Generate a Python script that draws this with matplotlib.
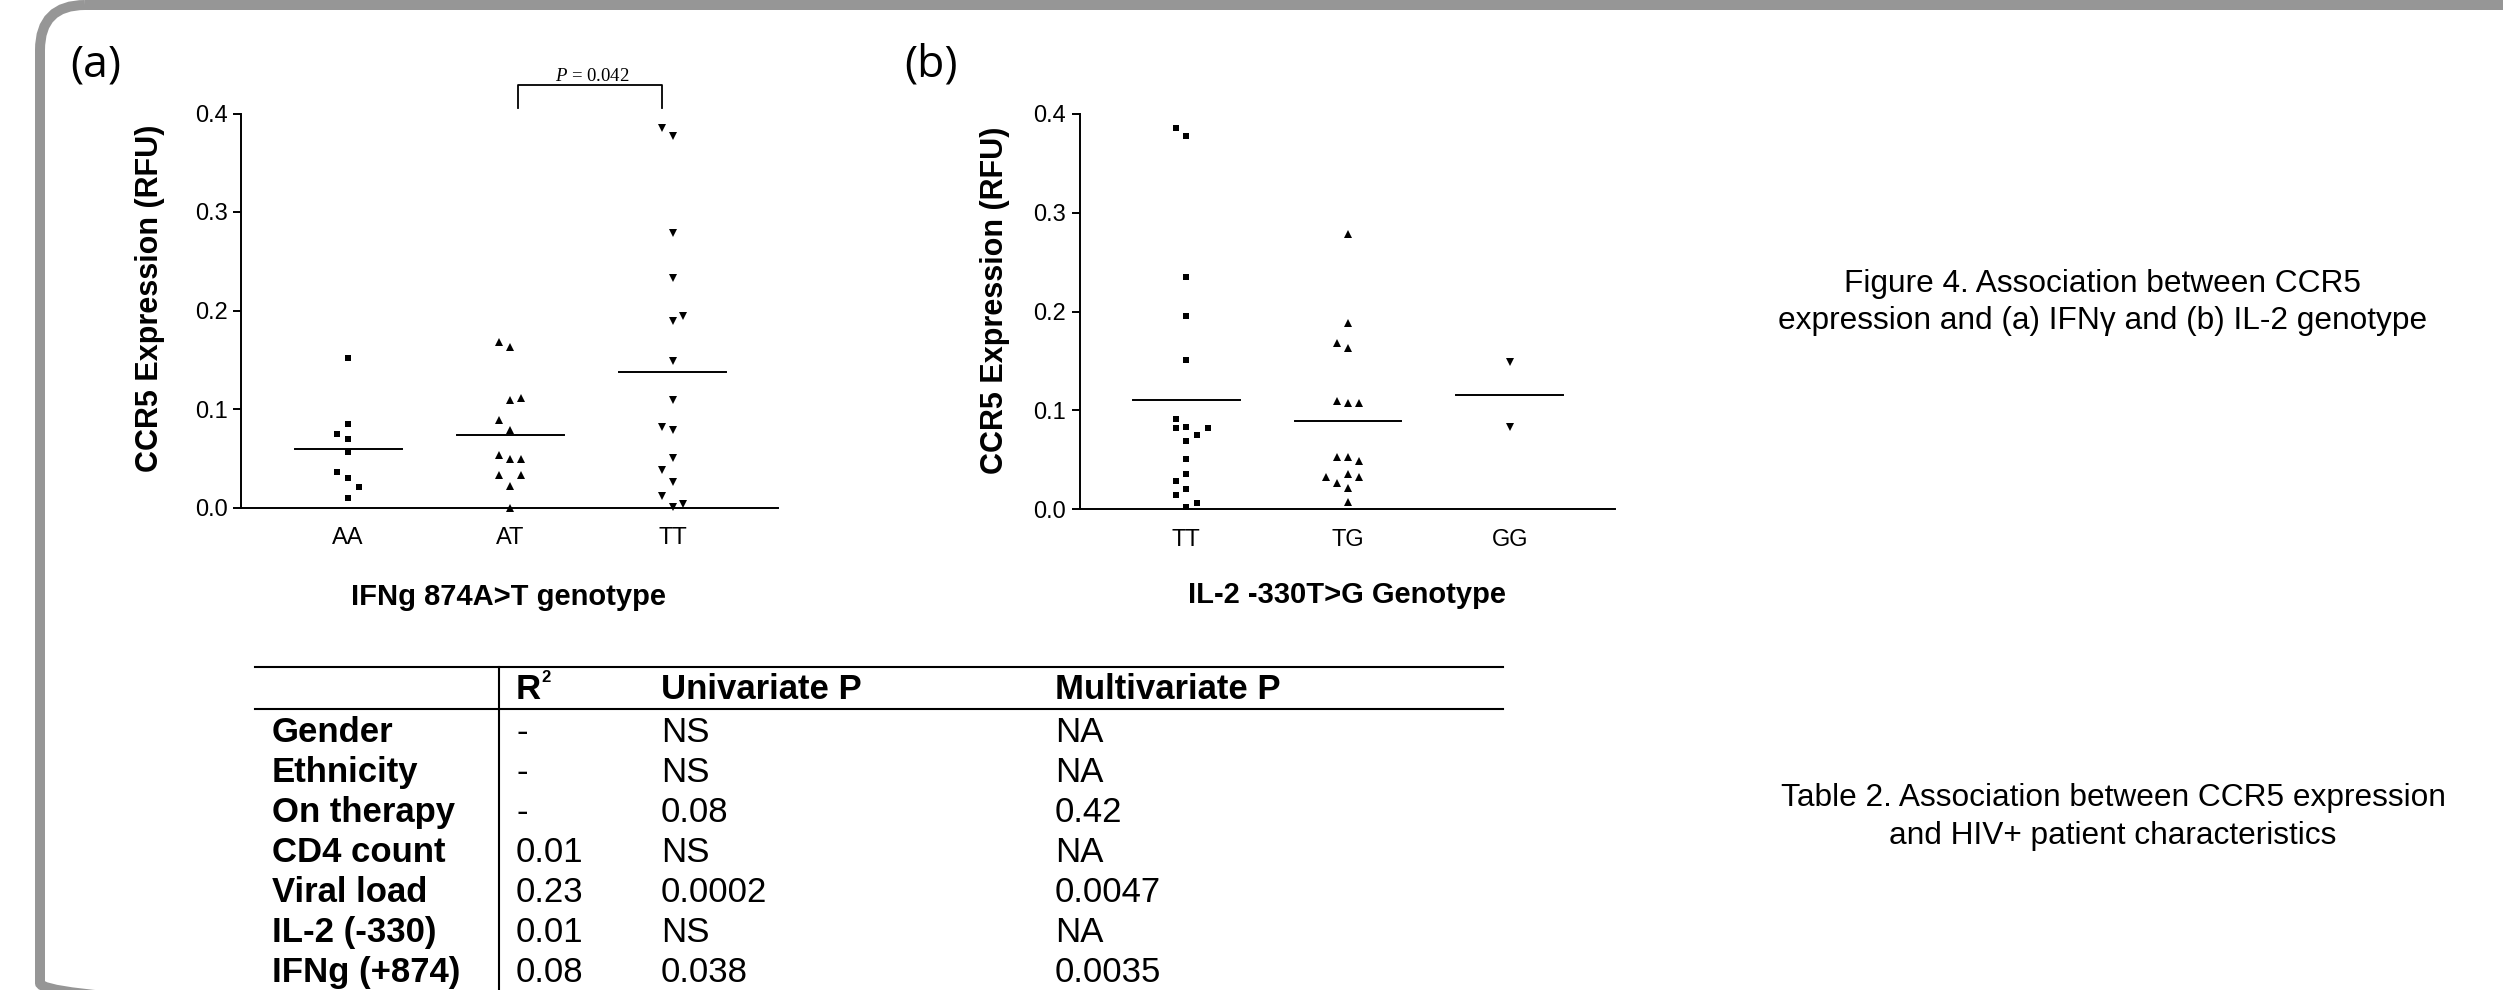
import numpy as np
import matplotlib
matplotlib.use("Agg")
import matplotlib.pyplot as plt
from matplotlib.patches import FancyBboxPatch
from matplotlib.ticker import FormatStrFormatter

W, H = 2503, 990  # output size in pixels (dpi 100)

# ── data ────────────────────────────────────────────────────────────
# (a) CCR5 expression by IFNg 874A>T genotype
ifng_groups = ["AA", "AT", "TT"]
ifng_aa = [0.152, 0.085, 0.075, 0.070, 0.056, 0.036, 0.030, 0.021, 0.010]
ifng_at = [0.168, 0.163, 0.109, 0.111, 0.089, 0.079, 0.053, 0.049, 0.049,
           0.033, 0.033, 0.022, 0.000]
ifng_tt = [0.385, 0.377, 0.279, 0.233, 0.189, 0.194, 0.149, 0.109, 0.082,
           0.079, 0.050, 0.038, 0.026, 0.012, 0.001, 0.004]
# swarm column of each point (-1 left, 0 centre, +1 right), as plotted
ifng_aa_col = [0, 0, -1, 0, 0, -1, 0, 1, 0]
ifng_at_col = [-1, 0, 0, 1, -1, 0, -1, 0, 1, -1, 1, 0, 0]
ifng_tt_col = [-1, 0, 0, 0, 0, 1, 0, 0, -1, 0, 0, -1, 0, -1, 0, 1]
ifng_p = "0.042"

# (b) CCR5 expression by IL-2 -330T>G genotype
il2_groups = ["TT", "TG", "GG"]
il2_tt = [0.386, 0.378, 0.235, 0.196, 0.151, 0.091, 0.082, 0.083, 0.082,
          0.075, 0.069, 0.051, 0.036, 0.029, 0.021, 0.014, 0.006, 0.002]
il2_tg = [0.278, 0.188, 0.168, 0.163, 0.110, 0.108, 0.108, 0.053, 0.053,
          0.049, 0.036, 0.033, 0.033, 0.027, 0.022, 0.007]
il2_gg = [0.149, 0.083]
il2_tt_col = [-1, 0, 0, 0, 0, -1, -1, 0, 2, 1, 0, 0, 0, -1, 0, -1, 1, 0]
il2_tg_col = [0, 0, -1, 0, -1, 0, 1, -1, 0, 1, 0, -2, 1, -1, 0, 0]
il2_gg_col = [0, 0]

# Table 2
tbl_header = ["Univariate P", "Multivariate P"]
tbl_rows = ["Gender", "Ethnicity", "On therapy", "CD4 count", "Viral load",
            "IL-2 (-330)", "IFNg (+874)"]
tbl_r2 = ["-", "-", "-", "0.01", "0.23", "0.01", "0.08"]
tbl_uni = ["NS", "NS", "0.08", "NS", "0.0002", "NS", "0.038"]
tbl_multi = ["NA", "NA", "0.42", "NA", "0.0047", "NA", "0.0035"]

fig_caption = ["Figure 4. Association between CCR5",
               "expression and (a) IFNγ and (b) IL-2 genotype"]
tbl_caption = ["Table 2. Association between CCR5 expression",
               "and HIV+ patient characteristics"]

SLOT_W = 0.067      # width of one swarm column, in category units
HALF_MEAN = 0.33    # half length of the mean bar
FRAME_GREY = "#969696"

plt.rcParams["font.family"] = ["Liberation Sans", "DejaVu Sans"]
plt.rcParams["mathtext.fontset"] = "custom"
plt.rcParams["mathtext.rm"] = "Liberation Serif"
plt.rcParams["mathtext.it"] = "Liberation Serif:italic"


def fx(x):
    return x / W


def fy(y):
    return 1.0 - y / H


def px_rect(x0, ytop, x1, ybot):
    return [x0 / W, 1.0 - ybot / H, (x1 - x0) / W, (ybot - ytop) / H]


def draw_panel(ax, groups, values, cols, markers):
    for i, (vals, col, mk) in enumerate(zip(values, cols, markers)):
        x = i + 1 + SLOT_W * np.asarray(col)
        ms = 4.6 if mk == "s" else 6.2
        ax.plot(x, vals, linestyle="none", marker=mk, ms=ms, color="black",
                mew=0, clip_on=False, zorder=3)
        m = float(np.mean(vals))
        ax.plot([i + 1 - HALF_MEAN, i + 1 + HALF_MEAN], [m, m],
                color="black", lw=1.4, zorder=2)
    ax.set_xlim(0.34, 3.65)
    ax.set_ylim(0, 0.4)
    ax.set_yticks(np.arange(0, 0.41, 0.1))
    ax.yaxis.set_major_formatter(FormatStrFormatter("%.1f"))
    ax.set_xticks([1, 2, 3])
    ax.set_xticklabels(groups)
    ax.tick_params(axis="x", length=0, pad=14, labelsize=17)
    ax.tick_params(axis="y", length=5.8, width=1.4, pad=4, labelsize=17)
    for side in ("top", "right"):
        ax.spines[side].set_visible(False)
    for side in ("left", "bottom"):
        ax.spines[side].set_linewidth(1.4)


fig = plt.figure(figsize=(W / 100, H / 100), dpi=100)

# ── background layer in pixel coordinates: frame + table rules ──────
bg = fig.add_axes([0, 0, 1, 1])
bg.set_xlim(0, W)
bg.set_ylim(H, 0)
bg.axis("off")
bg.add_patch(FancyBboxPatch(
    (40, 5), 2700, 1023, boxstyle="round,pad=0,rounding_size=45",
    fill=False, ec=FRAME_GREY, lw=7.2,
))
bg.plot([255, 1503], [666.7, 666.7], color="black", lw=1.5)
bg.plot([255, 1503], [709, 709], color="black", lw=1.5)
bg.plot([499.3, 499.3], [666.7, 995], color="black", lw=1.5)

# ── (a) ─────────────────────────────────────────────────────────────
ax_a = fig.add_axes(px_rect(241, 113.5, 778, 507.5))
draw_panel(ax_a, ifng_groups, [ifng_aa, ifng_at, ifng_tt],
           [ifng_aa_col, ifng_at_col, ifng_tt_col], ["s", "^", "v"])
# significance bracket AT vs TT
ax_a.plot([2.045, 2.045, 2.932, 2.932], [0.406, 0.4286, 0.4286, 0.406],
          color="black", lw=1.3, clip_on=False)
ax_a.text(2.505, 0.433, r"$P$ = " + ifng_p, family="Liberation Serif",
          fontsize=13.5, ha="center", va="baseline")

# ── (b) ─────────────────────────────────────────────────────────────
ax_b = fig.add_axes(px_rect(1079.6, 113.9, 1615, 509.3))
draw_panel(ax_b, il2_groups, [il2_tt, il2_tg, il2_gg],
           [il2_tt_col, il2_tg_col, il2_gg_col], ["s", "^", "v"])

# axis titles
for x, y in ((150, 298), (995, 300)):
    fig.text(fx(x), fy(y), "CCR5 Expression (RFU)", rotation=90,
             fontsize=22, fontweight="bold", ha="center", va="center")
fig.text(fx(508.5), fy(605), "IFNg 874A>T genotype", fontsize=21,
         fontweight="bold", ha="center", va="baseline")
fig.text(fx(1347), fy(603), "IL-2 -330T>G Genotype", fontsize=21,
         fontweight="bold", ha="center", va="baseline")

# panel letters
for x, s in ((70, "(a)"), (904, "(b)")):
    fig.text(fx(x), fy(65), s, family="Open Sans", fontsize=32,
             ha="left", va="center")

# ── Table 2 ─────────────────────────────────────────────────────────
col_x = [271.7, 516, 661, 1055]
fig.text(fx(col_x[1]), fy(699.3), "R", fontsize=25, fontweight="bold",
         va="baseline")
fig.text(fx(col_x[1] + 25), fy(682), "2", fontsize=12, fontweight="bold",
         va="baseline")
fig.text(fx(col_x[2]), fy(699.3), tbl_header[0], fontsize=25,
         fontweight="bold", va="baseline")
fig.text(fx(col_x[3]), fy(699.3), tbl_header[1], fontsize=25,
         fontweight="bold", va="baseline")
for i, row in enumerate(tbl_rows):
    yb = fy(741.7 + 40 * i)
    fig.text(fx(col_x[0]), yb, row, fontsize=25, fontweight="bold",
             va="baseline")
    for cx, cell in zip(col_x[1:], (tbl_r2[i], tbl_uni[i], tbl_multi[i])):
        fig.text(fx(cx), yb, cell, fontsize=25, va="baseline")

# captions
for i, line in enumerate(fig_caption):
    fig.text(fx(2103), fy(291.5 + 38 * i), line, fontsize=22.8,
             ha="center", va="baseline")
for i, line in enumerate(tbl_caption):
    fig.text(fx(2113), fy(806 + 38 * i), line, fontsize=22.8,
             ha="center", va="baseline")

fig.savefig("out.png", dpi=100)
